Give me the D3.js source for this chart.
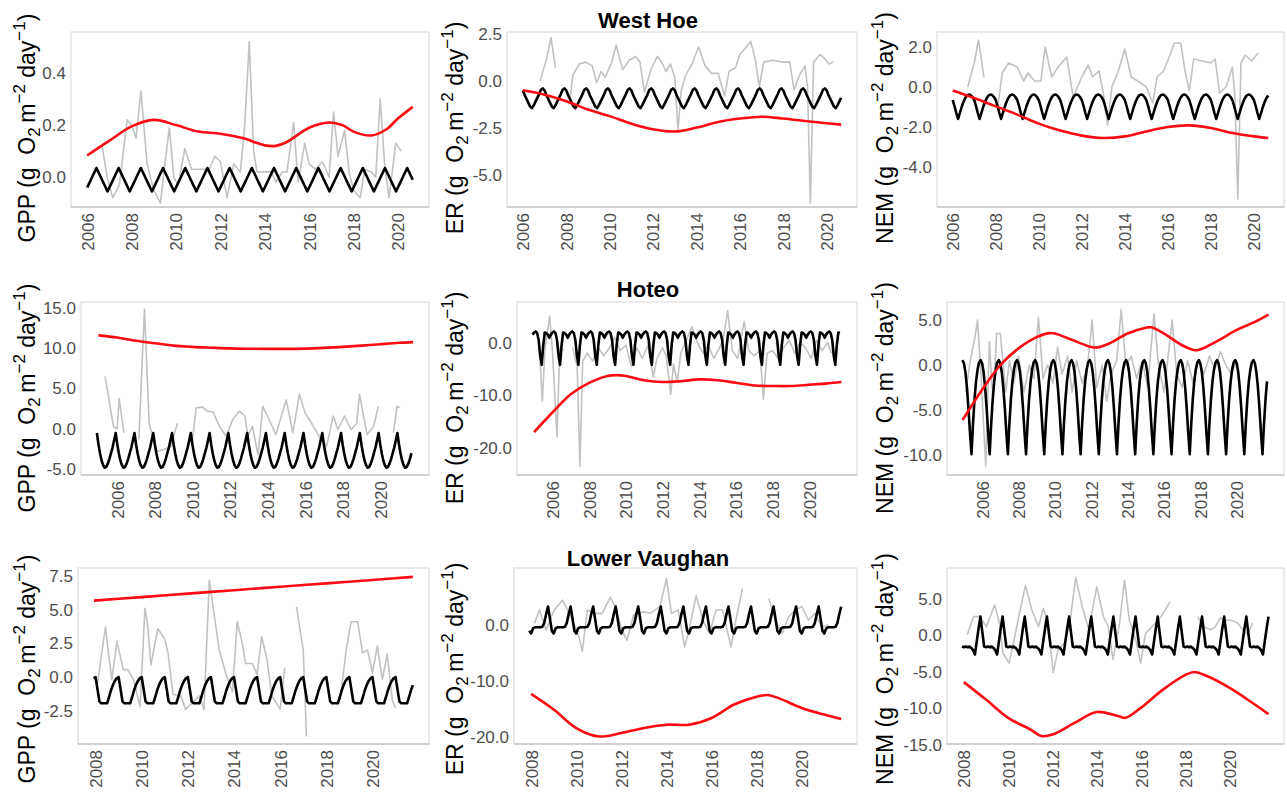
<!DOCTYPE html>
<meta charset="utf-8">
<style>
body { margin: 0; background: #fff; }
text { font-family: "Liberation Sans", Arial, sans-serif; }
</style>
<body>
<script src="https://cdnjs.cloudflare.com/ajax/libs/d3/7.8.5/d3.min.js"></script>
<script>

// ---- West Hoe ----
var whGppObs = [[2006.67,0.12],[2006.9,0.0],[2007.15,-0.08],[2007.45,-0.03],[2007.8,0.22],[2008.0,0.2],[2008.2,0.15],[2008.42,0.33],[2008.7,0.05],[2009.0,-0.05],[2009.3,-0.1],[2009.5,0.05],[2009.7,0.19],[2009.9,0.0],[2010.1,-0.03],[2010.4,0.11],[2010.7,0.03],[2011.0,0.03],[2011.5,0.03],[2011.75,0.08],[2012.0,0.06],[2012.3,-0.08],[2012.6,0.05],[2012.9,0.02],[2013.1,0.2],[2013.3,0.52],[2013.5,0.1],[2013.65,0.02],[2014.3,0.02],[2014.5,-0.02],[2014.8,0.02],[2015.0,0.02],[2015.3,0.21],[2015.5,-0.02],[2015.8,0.13],[2016.0,0.05],[2016.3,0.03],[2016.6,0.06],[2016.9,0.0],[2017.1,0.25],[2017.3,0.08],[2017.6,0.18],[2017.8,0.02],[2018.0,-0.05],[2018.3,-0.08],[2018.5,0.03],[2018.8,0.02],[2019.0,0.0],[2019.2,0.3],[2019.4,0.05],[2019.6,-0.08],[2019.9,0.13],[2020.15,0.1]];
var whGppTrend = [[2006,0.083],[2007,0.14],[2008,0.195],[2009,0.22],[2010,0.2],[2011,0.175],[2012,0.167],[2013,0.15],[2014,0.122],[2014.5,0.12],[2015,0.135],[2016,0.19],[2016.9,0.21],[2017.5,0.2],[2018,0.175],[2018.8,0.16],[2019.5,0.185],[2020,0.225],[2020.67,0.27]];
var whGppSeason = [-0.04,-0.025,-0.01,0.005,0.02,0.035,0.02,0.005,-0.01,-0.025,-0.04,-0.055];

var whErObs = [[2006.8,0.0],[2007.1,1.2],[2007.3,2.3],[2007.5,0.7],[2007.6,null],[2008.15,-1.2],[2008.3,0.3],[2008.6,0.9],[2008.9,1.0],[2009.2,0.8],[2009.4,-0.1],[2009.6,0.5],[2009.8,0.2],[2010.1,1.0],[2010.3,1.9],[2010.6,0.6],[2010.9,1.1],[2011.2,1.3],[2011.4,1.0],[2011.6,-0.6],[2011.9,0.6],[2012.2,1.3],[2012.4,1.0],[2012.6,0.5],[2012.8,0.9],[2013.0,0.2],[2013.15,-2.6],[2013.3,-0.5],[2013.5,0.3],[2013.8,0.9],[2014.1,1.8],[2014.4,0.8],[2014.7,0.4],[2015.0,0.4],[2015.3,-0.8],[2015.5,0.5],[2015.8,0.7],[2016.0,1.4],[2016.3,1.8],[2016.5,2.1],[2016.7,1.2],[2016.9,-0.3],[2017.1,1.0],[2017.5,1.1],[2018.0,1.0],[2018.3,1.0],[2018.5,-0.5],[2018.7,0.2],[2019.0,0.8],[2019.12,-0.3],[2019.25,-6.5],[2019.4,1.0],[2019.7,1.4],[2019.9,1.2],[2020.1,0.9],[2020.3,1.0]];
var whErTrend = [[2006,-0.5],[2007,-0.73],[2008,-1.08],[2009,-1.52],[2010,-1.87],[2011,-2.27],[2012,-2.57],[2013,-2.69],[2014,-2.48],[2015,-2.18],[2016,-2.0],[2017,-1.9],[2018,-2.0],[2019,-2.13],[2020,-2.25],[2020.67,-2.32]];
var whErSeason = [-0.5,-0.75,-0.95,-1.15,-1.35,-1.45,-1.3,-1.1,-0.9,-0.7,-0.47,-0.4];

var whNemObs = [[2006.7,0.0],[2007.0,1.2],[2007.2,2.35],[2007.45,0.5],[2007.5,null],[2008.1,-1.0],[2008.3,0.7],[2008.6,1.2],[2009.0,1.0],[2009.3,0.3],[2009.5,0.7],[2009.8,0.3],[2010.1,0.3],[2010.3,2.0],[2010.6,0.5],[2010.9,1.0],[2011.3,1.5],[2011.6,-0.5],[2012.0,0.5],[2012.3,1.1],[2012.5,0.5],[2012.8,0.8],[2013.0,-0.3],[2013.2,-1.9],[2013.4,0.0],[2013.7,0.8],[2014.0,1.9],[2014.3,0.5],[2014.6,0.3],[2015.0,0.0],[2015.3,-0.8],[2015.5,0.5],[2015.8,0.8],[2016.1,1.6],[2016.3,2.2],[2016.6,2.2],[2016.8,0.8],[2017.0,-0.2],[2017.2,1.4],[2017.6,1.3],[2018.0,1.2],[2018.2,1.4],[2018.4,-0.3],[2018.7,0.0],[2019.0,1.0],[2019.12,-0.5],[2019.25,-5.6],[2019.4,1.2],[2019.6,1.6],[2019.9,1.3],[2020.2,1.7]];
var whNemTrend = [[2006,-0.17],[2007,-0.55],[2008,-0.97],[2009,-1.38],[2010,-1.83],[2011,-2.18],[2012,-2.43],[2013,-2.55],[2014,-2.47],[2015,-2.22],[2016,-2.0],[2017,-1.92],[2018,-2.05],[2019,-2.3],[2020,-2.47],[2020.67,-2.55]];
var whNemSeason = [-0.65,-0.95,-1.3,-1.6,-1.3,-1.0,-0.75,-0.55,-0.42,-0.38,-0.4,-0.5];

// ---- Hoteo ----
var hoGppObs = [[2005.35,6.5],[2005.8,0.3],[2006.0,0.0],[2006.1,3.8],[2006.35,-0.5],[2006.4,null],[2007.15,-1.3],[2007.45,14.8],[2007.7,0.7],[2008.1,-2.8],[2008.4,-2.6],[2008.85,-2.2],[2009.2,0.7],[2009.3,null],[2010.0,-1.5],[2010.2,2.6],[2010.55,2.7],[2010.8,2.2],[2011.1,2.1],[2011.45,0.3],[2011.8,-0.9],[2012.15,1.15],[2012.5,2.2],[2012.8,1.6],[2012.95,-0.9],[2013.2,0.3],[2013.5,-3.2],[2013.75,2.8],[2014.0,1.6],[2014.45,-0.7],[2015.0,3.6],[2015.35,-0.5],[2015.7,4.3],[2016.0,2.0],[2016.35,0.7],[2016.8,-1.1],[2017.15,-2.1],[2017.5,1.6],[2017.75,-0.1],[2018.1,1.6],[2018.45,-0.1],[2018.75,0.7],[2018.9,4.3],[2019.3,-0.7],[2019.65,0.3],[2019.9,2.8],[2020.0,null],[2020.7,-0.5],[2020.9,2.8],[2021.05,2.6]];
var hoGppTrend = [[2005.0,11.57],[2006,11.3],[2007,10.9],[2008,10.6],[2009,10.3],[2010,10.15],[2011,10.05],[2012,9.96],[2013,9.92],[2014,9.9],[2015,9.9],[2016,9.93],[2017,10.02],[2018,10.15],[2019,10.3],[2020,10.48],[2021,10.65],[2021.75,10.74]];
var hoGppSeason = [-1.9,-3.0,-3.9,-4.5,-4.8,-4.7,-4.3,-3.7,-3.0,-2.3,-1.4,-0.5];

var hoErObs = [[2005.3,-2.0],[2005.45,-11.0],[2005.6,-1.0],[2005.85,5.0],[2006.0,-1.5],[2006.25,-17.8],[2006.4,-1.0],[2006.6,-1.5],[2006.7,null],[2007.1,-1.0],[2007.35,-4.5],[2007.5,-23.4],[2007.65,-3.5],[2007.9,-2.0],[2008.2,-3.5],[2008.5,-1.0],[2008.8,-2.5],[2009.1,-1.0],[2009.4,1.0],[2009.7,-1.5],[2010.0,-0.5],[2010.3,-4.5],[2010.6,-1.0],[2010.9,-3.0],[2011.2,-0.5],[2011.5,-6.5],[2011.7,-3.0],[2012.0,-1.0],[2012.2,-2.5],[2012.45,-9.8],[2012.6,-4.0],[2012.8,-7.5],[2013.0,-2.0],[2013.3,0.5],[2013.6,3.0],[2013.9,0.0],[2014.2,-2.0],[2014.5,-0.5],[2014.8,-3.0],[2015.1,-1.0],[2015.3,0.5],[2015.55,6.0],[2015.8,-1.5],[2016.1,-3.0],[2016.45,4.0],[2016.7,-1.5],[2017.0,-2.5],[2017.3,-1.5],[2017.5,-10.7],[2017.7,-2.0],[2018.0,-1.5],[2018.3,-3.0],[2018.6,-1.0],[2018.9,0.5],[2019.2,-2.0],[2019.5,0.0],[2019.8,-1.0],[2020.1,-3.0],[2020.4,0.5],[2020.7,-1.5],[2021.0,0.0],[2021.2,-2.0]];
var hoErTrend = [[2005.0,-16.9],[2006,-13.2],[2007,-9.75],[2008,-7.6],[2009,-6.3],[2009.5,-6.15],[2010,-6.3],[2011,-7.1],[2012,-7.45],[2013,-7.3],[2014,-6.95],[2015,-7.1],[2016,-7.6],[2017,-8.1],[2018,-8.2],[2019,-8.2],[2020,-7.95],[2021,-7.7],[2021.75,-7.45]];
var hoErSeason = [1.9,2.1,1.8,0.5,-2.5,-4.2,-0.5,1.9,1.8,1.5,0.9,1.5];

var hoNemObs = [[2005.1,-3.0],[2005.35,0.5],[2005.6,3.0],[2005.75,5.0],[2005.95,-1.5],[2006.2,-11.2],[2006.4,2.6],[2006.6,-4.0],[2006.8,3.5],[2007.0,3.5],[2007.3,-3.0],[2007.5,0.5],[2007.75,-2.0],[2008.0,1.0],[2008.3,-3.0],[2008.6,0.0],[2008.85,-1.5],[2009.1,5.3],[2009.35,-1.5],[2009.6,0.0],[2009.9,-2.0],[2010.15,2.0],[2010.4,-1.0],[2010.7,1.0],[2010.95,-3.0],[2011.2,0.5],[2011.5,-2.0],[2011.8,0.0],[2012.05,5.0],[2012.3,-2.5],[2012.6,0.0],[2012.85,-4.0],[2013.1,-1.0],[2013.4,0.5],[2013.65,6.2],[2013.9,0.0],[2014.2,1.0],[2014.5,-1.5],[2014.8,0.5],[2015.1,-2.5],[2015.45,5.7],[2015.7,0.0],[2016.0,-3.0],[2016.2,0.5],[2016.45,5.0],[2016.7,-1.0],[2017.0,-2.5],[2017.3,0.5],[2017.6,-2.0],[2017.9,0.5],[2018.2,-1.0],[2018.5,1.0],[2018.8,-0.5],[2019.1,1.5],[2019.4,0.0],[2019.7,-1.0],[2020.0,0.5]];
var hoNemTrend = [[2004.93,-6.1],[2006,-2.75],[2007,0.0],[2008,1.85],[2009,3.1],[2009.7,3.55],[2010,3.5],[2011,2.75],[2012,2.0],[2012.3,1.95],[2013,2.4],[2014,3.5],[2015,4.15],[2015.3,4.2],[2016,3.5],[2017,2.2],[2017.7,1.65],[2018,1.75],[2019,2.75],[2020,3.9],[2021,4.8],[2021.75,5.6]];
var hoNemSeason = [0.2,-0.8,-2.5,-4.8,-7.5,-9.9,-6.5,-3.8,-1.8,-0.5,0.3,0.55];

// ---- Lower Vaughan ----
var lvGppObs = [[2008.05,-0.9],[2008.43,3.7],[2008.7,-0.2],[2008.93,2.65],[2009.2,0.55],[2009.4,0.55],[2009.65,-0.2],[2009.93,-2.2],[2010.14,5.1],[2010.25,4.0],[2010.4,0.9],[2010.7,3.6],[2011.0,2.8],[2011.14,1.8],[2011.36,-1.3],[2011.7,-1.4],[2011.9,-2.4],[2012.2,-1.9],[2012.5,-1.4],[2012.7,-2.4],[2012.93,7.2],[2013.07,5.5],[2013.36,2.0],[2013.64,0.3],[2013.93,-1.1],[2014.14,4.1],[2014.36,2.5],[2014.5,1.0],[2014.79,1.0],[2015.0,0.2],[2015.2,3.0],[2015.43,1.3],[2015.64,-1.4],[2016.0,-2.4],[2016.2,0.7],[2016.3,null],[2016.71,5.2],[2017.0,2.0],[2017.14,-4.4],[2017.2,null],[2018.6,-1.7],[2018.86,2.0],[2019.07,4.1],[2019.36,4.1],[2019.57,1.8],[2019.79,2.0],[2020.0,0.3],[2020.21,2.3],[2020.43,-0.2],[2020.64,1.7],[2020.86,-1.7],[2021.0,-2.3]];
var lvGppTrend = [[2007.93,5.67],[2010,5.93],[2012,6.19],[2014,6.44],[2016,6.7],[2018,6.95],[2020,7.2],[2021.75,7.43]];
var lvGppSeason = [0.0,-0.9,-1.8,-1.95,-1.95,-1.95,-1.95,-1.5,-1.0,-0.6,-0.3,-0.1];

var lvErObs = [[2008.15,0.3],[2008.37,2.7],[2008.66,-0.9],[2009.02,2.7],[2009.39,4.45],[2009.76,1.5],[2010.12,-2.1],[2010.27,-4.7],[2010.49,2.7],[2010.78,2.1],[2011.15,2.1],[2011.51,5.0],[2011.73,3.3],[2012.03,-0.9],[2012.25,-2.7],[2012.54,1.8],[2012.98,2.4],[2013.27,2.1],[2013.71,3.3],[2014.0,8.3],[2014.22,2.1],[2014.52,2.7],[2014.81,-3.9],[2015.03,-0.3],[2015.32,5.3],[2015.61,0.9],[2015.91,-1.5],[2016.2,2.7],[2016.49,2.7],[2016.86,-3.9],[2017.08,0.9],[2017.37,6.5],[2017.45,null],[2018.54,4.75],[2018.83,0.9],[2019.13,-1.5],[2019.42,1.5],[2019.71,2.7],[2020.0,3.3],[2020.3,0.9],[2020.59,2.1],[2020.88,-0.3],[2021.18,0.0]];
var lvErTrend = [[2008,-12.3],[2009,-15.1],[2010,-18.4],[2011,-19.9],[2012,-19.3],[2013,-18.4],[2014,-17.8],[2015,-17.8],[2016,-16.6],[2017,-14.2],[2018,-12.8],[2018.5,-12.5],[2019,-13.1],[2020,-14.8],[2021,-16.0],[2021.75,-16.8]];
var lvErSeason = [-1.5,-0.6,-0.4,-0.4,-0.4,-0.4,-0.3,0.4,2.0,3.3,1.2,-1.0];

var lvNemObs = [[2008.15,0.1],[2008.44,2.6],[2008.73,2.6],[2009.02,1.2],[2009.39,4.2],[2009.61,1.7],[2009.76,-2.4],[2010.05,-3.8],[2010.42,1.7],[2010.78,6.9],[2011.07,3.5],[2011.37,1.2],[2011.59,3.7],[2011.81,1.7],[2012.03,-5.1],[2012.25,-2.0],[2012.54,-1.0],[2012.76,1.2],[2013.05,8.0],[2013.34,4.0],[2013.64,0.8],[2014.0,6.7],[2014.3,2.6],[2014.52,1.2],[2014.73,-3.3],[2015.03,1.7],[2015.25,7.6],[2015.47,2.1],[2015.76,-0.6],[2015.98,-3.8],[2016.2,0.3],[2016.49,1.2],[2016.78,2.1],[2017.08,3.5],[2017.3,4.6],[2017.4,null],[2018.54,2.6],[2018.83,1.2],[2019.13,0.8],[2019.35,1.2],[2019.57,2.4],[2019.79,2.1],[2020.08,2.1],[2020.37,1.7],[2020.59,0.8],[2020.81,0.1],[2021.03,1.7]];
var lvNemTrend = [[2008,-6.4],[2009,-8.8],[2010,-11.3],[2011,-12.9],[2011.5,-13.8],[2012,-13.6],[2013,-12.0],[2014,-10.5],[2015,-11.1],[2015.3,-11.3],[2016,-9.9],[2017,-7.4],[2018,-5.4],[2018.4,-5.0],[2019,-5.6],[2020,-7.2],[2021,-9.2],[2021.75,-10.8]];
var lvNemSeason = [-1.6,-1.5,-1.6,-1.5,-1.7,-2.0,-2.6,-0.8,1.0,2.6,0.5,-1.5];

// seasonal spans (first and last month shown) and tick labels
var whSpan = [2006.0, 2020.67];
var hoSpan = [2004.917, 2021.67];
var lvSpan = [2007.917, 2021.75];
var yearTicksA = [2006, 2008, 2010, 2012, 2014, 2016, 2018, 2020];
var yearTicksB = [2008, 2010, 2012, 2014, 2016, 2018, 2020];
var sites = ["West Hoe", "Hoteo", "Lower Vaughan"];
var metrics = ["GPP", "ER", "NEM"];

// repeat the yearly profile month by month over the span
function seasonal(profile, span) {
  var out = [];
  for (var m = Math.round(span[0] * 12); m <= Math.round(span[1] * 12); m++)
    out.push([m / 12, profile[m % 12]]);
  return out;
}

// layout of the 9 panels
var rowBox = [
  {top: 32, bottom: 207, xDom: [2005.27, 2021.4], span: whSpan, xt: yearTicksA, titleY: 28, labY: 128},
  {top: 302, bottom: 475, xDom: [2004.07, 2022.6], span: hoSpan, xt: yearTicksA, titleY: 297, labY: 398},
  {top: 568, bottom: 744, xDom: [2007.24, 2022.45], span: lvSpan, xt: yearTicksB, titleY: 566, labY: 669}
];
var colLeft = [[71, 507, 937], [81, 517, 947], [78, 514, 947]];
var colRight = [429, 857, 1284];
var labX = [27, 455, 885];

var panels = [
  [whGppObs, whGppTrend, whGppSeason, [-0.115, 0.558], [0.0, 0.2, 0.4]],
  [whErObs, whErTrend, whErSeason, [-6.7, 2.6], [-5.0, -2.5, 0.0, 2.5]],
  [whNemObs, whNemTrend, whNemSeason, [-6.0, 2.75], [-4.0, -2.0, 0.0, 2.0]],
  [hoGppObs, hoGppTrend, hoGppSeason, [-5.7, 15.7], [-5, 0, 5, 10, 15]],
  [hoErObs, hoErTrend, hoErSeason, [-25.0, 7.66], [-20, -10, 0]],
  [hoNemObs, hoNemTrend, hoNemSeason, [-12.2, 7.0], [-10, -5, 0, 5]],
  [lvGppObs, lvGppTrend, lvGppSeason, [-4.97, 8.09], [-2.5, 0, 2.5, 5, 7.5]],
  [lvErObs, lvErTrend, lvErSeason, [-21.25, 10.2], [-20, -10, 0]],
  [lvNemObs, lvNemTrend, lvNemSeason, [-14.9, 9.28], [-15, -10, -5, 0, 5]]
];

var svg = d3.select("body").append("svg")
    .attr("width", 1287)
    .attr("height", 809);

panels.forEach(function(p, i) {
  var r = Math.floor(i / 3), c = i % 3, box = rowBox[r];
  var left = colLeft[r][c], right = colRight[c];

  var x = d3.scaleLinear().domain(box.xDom).range([left, right]);
  var y = d3.scaleLinear().domain(p[3]).range([box.bottom, box.top]);

  var g = svg.append("g");

  g.append("clipPath").attr("id", "clip" + i)
    .append("rect")
    .attr("x", left).attr("y", box.top)
    .attr("width", right - left).attr("height", box.bottom - box.top);

  // panel border
  g.append("rect")
    .attr("x", left).attr("y", box.top)
    .attr("width", right - left).attr("height", box.bottom - box.top)
    .style("fill", "none")
    .style("stroke", "#dcdcdc")
    .style("stroke-width", 1.2);
  g.append("line")
    .attr("x1", left).attr("x2", right)
    .attr("y1", box.bottom).attr("y2", box.bottom)
    .style("stroke", "#b5b5b5")
    .style("stroke-width", 1.2);

  var line = d3.line()
    .defined(function(d) { return d[1] != null; })
    .x(function(d) { return x(d[0]); })
    .y(function(d) { return y(d[1]); });

  var plot = g.append("g").attr("clip-path", "url(#clip" + i + ")");

  // raw series
  plot.append("path")
    .datum(p[0])
    .attr("d", line)
    .style("fill", "none")
    .style("stroke", "#c2c2c2")
    .style("stroke-width", 1.6)
    .style("stroke-linejoin", "round");

  // seasonal component
  plot.append("path")
    .datum(seasonal(p[2], box.span))
    .attr("d", line)
    .style("fill", "none")
    .style("stroke", "#000")
    .style("stroke-width", 2.6)
    .style("stroke-linejoin", "round");

  // trend
  plot.append("path")
    .datum(p[1])
    .attr("d", line.curve(d3.curveCatmullRom))
    .style("fill", "none")
    .style("stroke", "#ff0a14")
    .style("stroke-width", 2.6);

  // y axis
  var ya = g.append("g")
    .attr("transform", "translate(" + left + ",0)")
    .call(d3.axisLeft(y).tickValues(p[4])
      .tickFormat(function(d) { return d.toFixed(1); })
      .tickSize(0).tickPadding(5));
  ya.select(".domain").remove();
  ya.selectAll("text")
    .style("font-size", "17px")
    .style("fill", "#4d4d4d");

  // x axis, labels turned upright
  var xa = g.append("g")
    .attr("transform", "translate(0," + box.bottom + ")")
    .call(d3.axisBottom(x).tickValues(box.xt).tickFormat(d3.format("d")).tickSize(0));
  xa.select(".domain").remove();
  xa.selectAll("text")
    .attr("transform", "rotate(-90)")
    .attr("text-anchor", "end")
    .attr("x", -6)
    .attr("y", 0)
    .attr("dy", "0.35em")
    .style("font-size", "17px")
    .style("fill", "#4d4d4d");

  // y axis title
  var t = svg.append("text")
    .attr("transform", "translate(" + (labX[c] + 8) + "," + box.labY + ") rotate(-90)")
    .attr("text-anchor", "middle")
    .style("font-size", "23px")
    .style("fill", "#000");
  t.append("tspan").text(metrics[c] + " (g\u00a0 O");
  t.append("tspan").attr("dy", 5).style("font-size", "17px").text("2");
  t.append("tspan").attr("dy", -5).text("\u2009m");
  t.append("tspan").attr("dy", -10).style("font-size", "17px").text("\u22122");
  t.append("tspan").attr("dy", 10).text(" day");
  t.append("tspan").attr("dy", -10).style("font-size", "17px").text("\u22121");
  t.append("tspan").attr("dy", 10).text(")");

  // site title above the middle column
  if (c == 1) {
    svg.append("text")
      .attr("x", 648)
      .attr("y", box.titleY)
      .attr("text-anchor", "middle")
      .style("font-size", "22px")
      .style("font-weight", "bold")
      .text(sites[r]);
  }
});

</script>
</body>
